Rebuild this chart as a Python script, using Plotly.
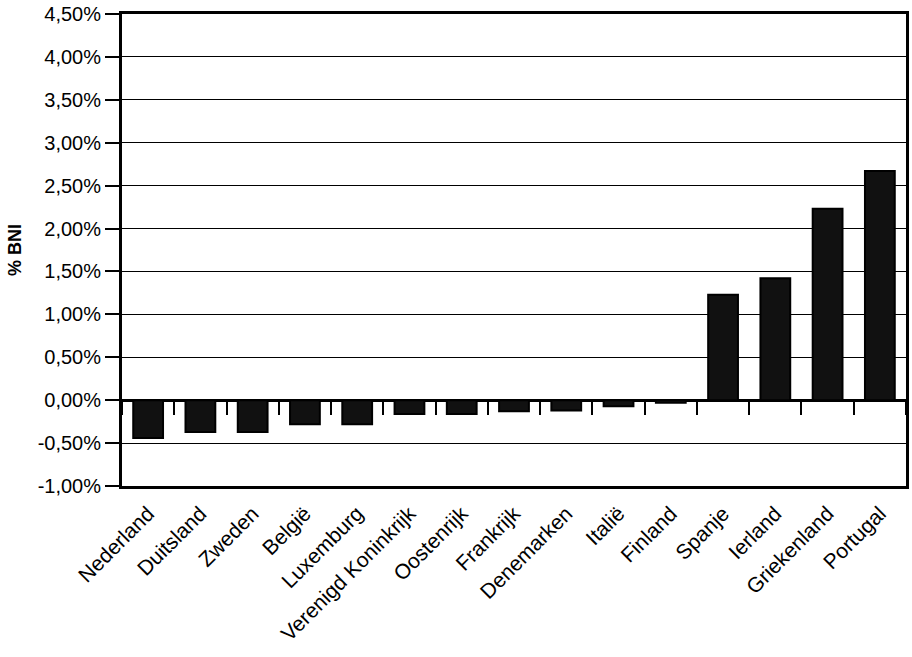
import plotly.graph_objects as go

countries = ["Nederland", "Duitsland", "Zweden", "België", "Luxemburg",
             "Verenigd Koninkrijk", "Oostenrijk", "Frankrijk", "Denemarken",
             "Italië", "Finland", "Spanje", "Ierland", "Griekenland", "Portugal"]
values = [-0.44, -0.37, -0.37, -0.28, -0.28, -0.16, -0.16, -0.13, -0.12,
          -0.07, -0.03, 1.23, 1.42, 2.23, 2.67]
y_ticks = [-1.0, -0.5, 0.0, 0.5, 1.0, 1.5, 2.0, 2.5, 3.0, 3.5, 4.0, 4.5]
y_tick_labels = ["-1,00%", "-0,50%", "0,00%", "0,50%", "1,00%", "1,50%",
                 "2,00%", "2,50%", "3,00%", "3,50%", "4,00%", "4,50%"]
y_title = "% BNI"

FONT = "Liberation Sans, Arial, sans-serif"

fig = go.Figure()
fig.add_trace(go.Bar(
    x=countries, y=values, width=0.57,
    marker=dict(color="#111111", line=dict(color="#000000", width=2)),
    hoverinfo="x+y",
))
# invisible helper trace to carry the category ticks hanging from the zero line
fig.add_trace(go.Scatter(
    x=countries, y=values, xaxis="x2", mode="markers",
    marker=dict(opacity=0), hoverinfo="skip", showlegend=False,
))

ymin, ymax = y_ticks[0], y_ticks[-1]
zero_pos = (0 - ymin) / (ymax - ymin)

fig.update_layout(
    width=912, height=657,
    margin=dict(l=122, r=3, t=14, b=171),
    paper_bgcolor="white", plot_bgcolor="white",
    showlegend=False, bargap=0.43,
    font=dict(family=FONT, size=20, color="black"),
    xaxis=dict(
        type="category", categoryorder="array", categoryarray=countries,
        range=[-0.5, len(countries) - 0.5],
        tickangle=-45, ticks="", showgrid=False,
        showline=True, linewidth=3, linecolor="black", mirror=True,
        tickfont=dict(family=FONT, size=21),
        ticklabelstandoff=4,
    ),
    xaxis2=dict(
        type="category", categoryorder="array", categoryarray=countries,
        range=[-0.5, len(countries) - 0.5],
        overlaying="x", anchor="free", position=zero_pos, side="bottom",
        ticks="outside", ticklen=14, tickwidth=1.5, tickcolor="black",
        tickson="boundaries", showticklabels=False, showgrid=False,
        showline=False, zeroline=False,
    ),
    yaxis=dict(
        range=[ymin, ymax], tickvals=y_ticks, ticktext=y_tick_labels,
        ticks="outside", ticklen=14, tickwidth=1.5, tickcolor="black",
        showgrid=True, gridcolor="black", gridwidth=1.2,
        zeroline=True, zerolinecolor="black", zerolinewidth=2.5,
        showline=True, linewidth=3, linecolor="black", mirror=True,
        tickfont=dict(family=FONT, size=20),
        title=dict(text="<b>" + y_title + "</b>", font=dict(family=FONT, size=18), standoff=12),
    ),
)

fig.write_html("out.html")
